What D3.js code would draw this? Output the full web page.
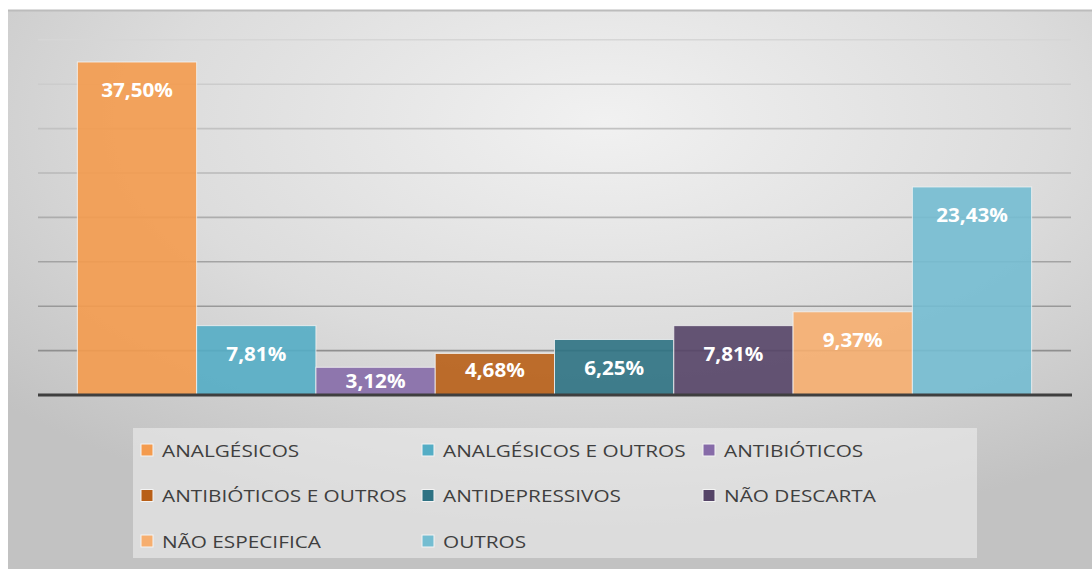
<!DOCTYPE html>
<html>
<head>
<meta charset="utf-8">
<script src="https://cdn.jsdelivr.net/npm/d3@7"></script>
<style>
  html, body { margin: 0; padding: 0; background: #fff; }
  svg { display: block; }
</style>
</head>
<body>
<div id="chart"></div>
<script>
// data
const categories = ['ANALGÉSICOS', 'ANALGÉSICOS E OUTROS', 'ANTIBIÓTICOS', 'ANTIBIÓTICOS E OUTROS',
  'ANTIDEPRESSIVOS', 'NÃO DESCARTA', 'NÃO ESPECIFICA', 'OUTROS'];
const values = [37.50, 7.81, 3.12, 4.68, 6.25, 7.81, 9.37, 23.43];
const colors = ['#F49B4E', '#54ADC5', '#866BA8', '#B85F17', '#2E7283', '#554467', '#F6AE6F', '#74BDD1'];
const yTicks = [5, 10, 15, 20, 25, 30, 35, 40];

const width = 1092;
const height = 569;
const plot = { left: 38, right: 1071, top: 39.8, bottom: 395 };

const svg = d3.select('#chart')
  .append('svg')
  .attr('width', width)
  .attr('height', height);

const defs = svg.append('defs');
const bg = defs.append('radialGradient')
  .attr('id', 'bg')
  .attr('cx', 0.55).attr('cy', 0.2).attr('r', 0.75);
bg.append('stop').attr('offset', '0%').attr('stop-color', '#f1f1f1');
bg.append('stop').attr('offset', '55%').attr('stop-color', '#dcdcdc');
bg.append('stop').attr('offset', '100%').attr('stop-color', '#c2c2c2');

// panel
svg.append('rect')
  .attr('x', 8).attr('y', 10)
  .attr('width', width - 8).attr('height', height - 10)
  .attr('fill', 'url(#bg)');
svg.append('line')
  .attr('x1', 8).attr('x2', width)
  .attr('y1', 10.5).attr('y2', 10.5)
  .attr('stroke', '#bcbcbc').attr('stroke-width', 2);

const x = d3.scaleBand()
  .domain(categories)
  .range([plot.left, plot.right])
  .paddingInner(0)
  .paddingOuter(0.33);

const y = d3.scaleLinear()
  .domain([0, 40])
  .range([plot.bottom, plot.top]);

const gridColor = d3.scaleLinear()
  .domain([5, 40])
  .range(['#8f8f8f', '#d6d6d6']);

// gridlines
svg.append('g')
  .selectAll('line')
  .data(yTicks)
  .enter()
  .append('line')
  .attr('x1', plot.left)
  .attr('x2', plot.right)
  .attr('y1', d => y(d))
  .attr('y2', d => y(d))
  .attr('stroke', d => gridColor(d))
  .attr('stroke-width', 1.6);

// bars
svg.append('g')
  .selectAll('rect')
  .data(values)
  .enter()
  .append('rect')
  .attr('x', (d, i) => x(categories[i]))
  .attr('y', d => y(d))
  .attr('width', x.bandwidth())
  .attr('height', d => y(0) - y(d))
  .attr('fill', (d, i) => colors[i])
  .attr('fill-opacity', 0.9)
  .attr('stroke', '#f4f4f4')
  .attr('stroke-opacity', 0.8)
  .attr('stroke-width', 1);

// baseline
svg.append('line')
  .attr('x1', plot.left)
  .attr('x2', plot.right + 1)
  .attr('y1', y(0))
  .attr('y2', y(0))
  .attr('stroke', '#3f3f3f')
  .attr('stroke-width', 3);

// value labels, inside end
const labelOffset = h => h < 30 ? h / 2 : Math.min(28, h - 25);
svg.append('g')
  .selectAll('text')
  .data(values)
  .enter()
  .append('text')
  .attr('transform', (d, i) => {
    const cx = x(categories[i]) + x.bandwidth() / 2;
    const cy = y(d) + labelOffset(y(0) - y(d));
    return 'translate(' + cx + ',' + cy + ') scale(1.06,1)';
  })
  .attr('text-anchor', 'middle')
  .attr('dominant-baseline', 'central')
  .attr('fill', '#ffffff')
  .style('font-family', '"Open Sans", sans-serif')
  .style('font-weight', 700)
  .style('font-size', '19.5px')
  .text(d => d.toFixed(2).replace('.', ',') + '%');

// legend
const legend = { left: 133, top: 428, right: 977, bottom: 558, col: 281, row: 45.5 };
svg.append('rect')
  .attr('x', legend.left).attr('y', legend.top)
  .attr('width', legend.right - legend.left)
  .attr('height', legend.bottom - legend.top)
  .attr('fill', '#ececec')
  .attr('fill-opacity', 0.6);

const items = svg.append('g')
  .selectAll('g')
  .data(categories)
  .enter()
  .append('g')
  .attr('transform', (d, i) => 'translate(' + (legend.left + 29 + (i % 3) * legend.col) + ','
    + (legend.top + 22 + Math.floor(i / 3) * legend.row) + ')');

items.append('rect')
  .attr('x', -21).attr('y', -6)
  .attr('width', 12).attr('height', 12)
  .attr('fill', (d, i) => colors[i])
  .attr('stroke', '#f4f4f4')
  .attr('stroke-width', 1);

items.append('text')
  .attr('transform', 'scale(1.26,1)')
  .attr('dominant-baseline', 'central')
  .attr('fill', '#3f3f3f')
  .style('font-family', '"Open Sans", sans-serif')
  .style('font-size', '16.5px')
  .text(d => d);
</script>
</body>
</html>
